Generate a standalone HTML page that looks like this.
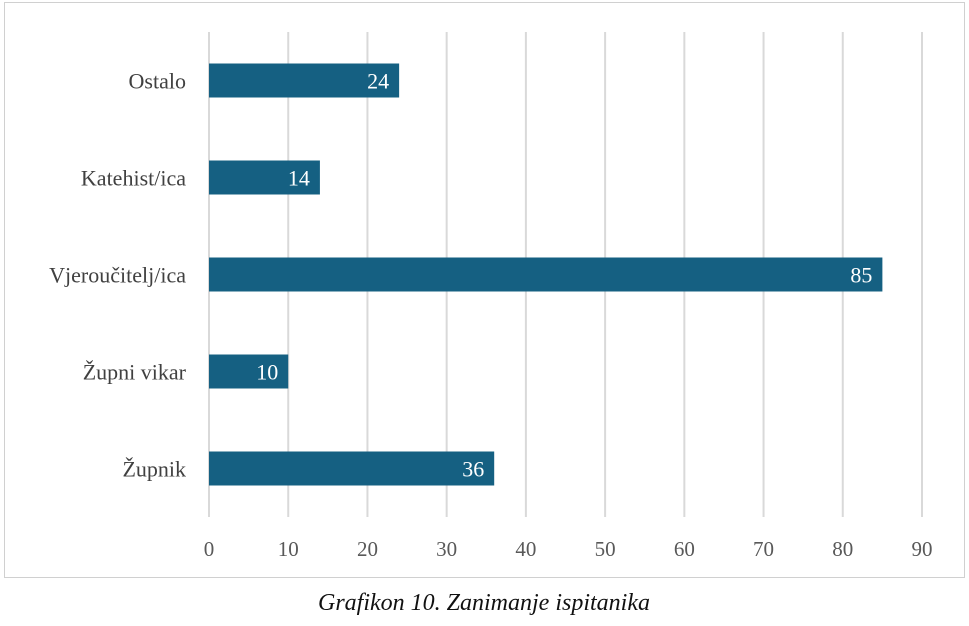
<!DOCTYPE html>
<html><head><meta charset="utf-8"><style>
body{margin:0;background:#fff;width:969px;height:621px;overflow:hidden;font-family:"Liberation Serif",serif;}
</style></head><body>
<svg width="969" height="621" xmlns="http://www.w3.org/2000/svg">
<rect x="4.5" y="2.5" width="960" height="575" fill="#fff" stroke="#d0d0d0"/>
<g id="grid"></g><g id="bars"></g><g id="labels"></g>
<text x="484" y="610" text-anchor="middle" font-size="24" font-style="italic" fill="#111">Grafikon 10. Zanimanje ispitanika</text>
</svg>
<script>
const categories=["Ostalo","Katehist/ica","Vjeroučitelj/ica","Župni vikar","Župnik"];
const values=[24,14,85,10,36];
const ticks=[0,10,20,30,40,50,60,70,80,90];
const NS="http://www.w3.org/2000/svg";
const x0=209,x90=922,maxV=90;
const xs=v=>x0+(x90-x0)*v/maxV;
const yTop=32,band=97;
const yc=i=>yTop+band*(i+0.5);
function mk(t,a,p){const e=document.createElementNS(NS,t);for(const k in a)e.setAttribute(k,a[k]);p.appendChild(e);return e;}
const g=document.getElementById('grid'),b=document.getElementById('bars'),l=document.getElementById('labels');
ticks.forEach(t=>{
 const ln=mk('line',{x1:xs(t),x2:xs(t),y1:yTop,y2:yTop+band*categories.length,stroke:'#d9d9d9','stroke-width':2},g);
 
 
 const tx=mk('text',{x:xs(t),y:556,'text-anchor':'middle','font-size':21,fill:'#595959'},l);
 tx.textContent=t;
 
 
});
categories.forEach((c,i)=>{
 const r=mk('rect',{x:xs(0),y:yc(i)-17,width:xs(values[i])-xs(0),height:34,fill:'#156082'},b);
 
 
 const v=mk('text',{x:xs(values[i])-10,y:yc(i)+8,'text-anchor':'end','font-size':22,fill:'#fff'},l);
 v.textContent=values[i];
 
 
 const t=mk('text',{x:186,y:yc(i)+8,'text-anchor':'end','font-size':22,fill:'#404040'},l);
 t.textContent=c;
 
 
});
</script>
</body></html>
